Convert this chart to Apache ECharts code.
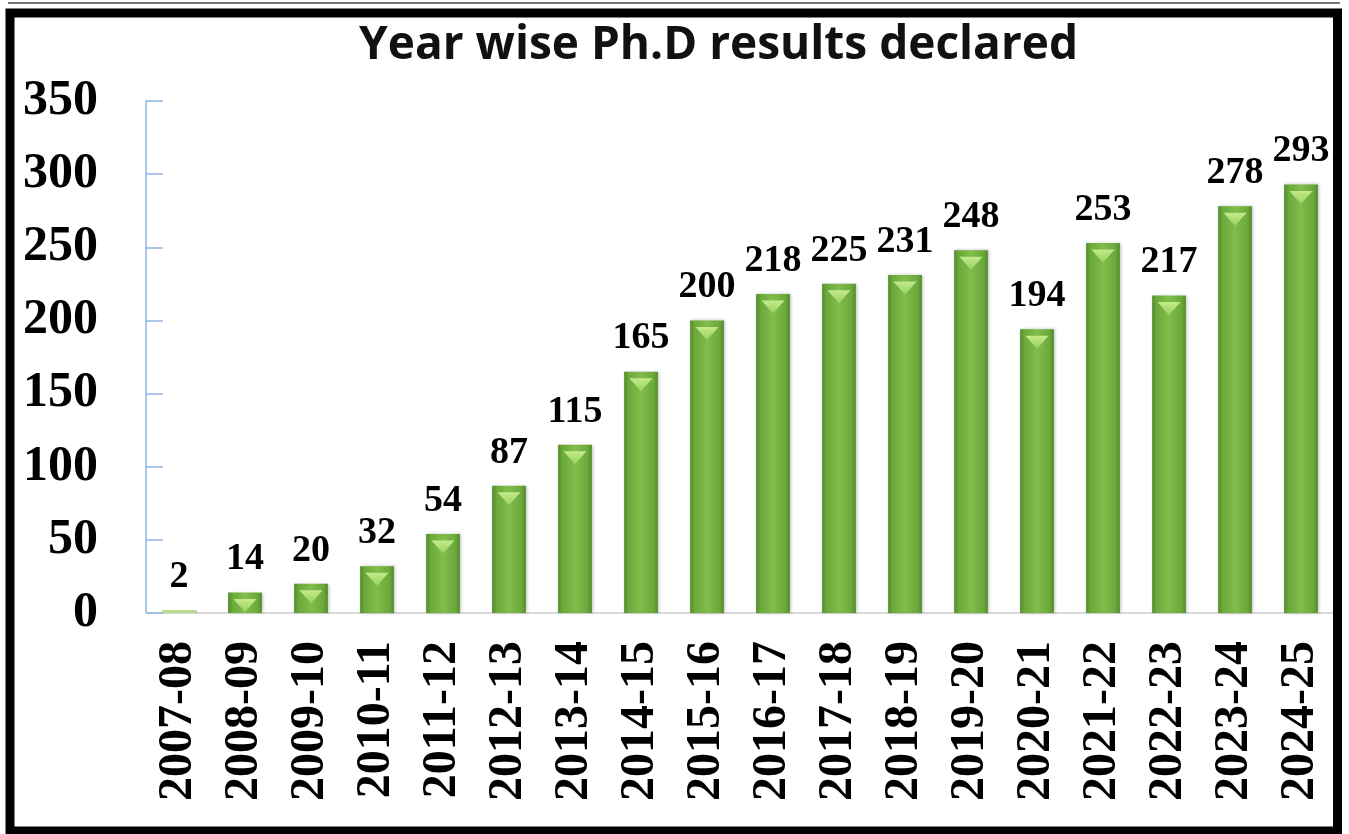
<!DOCTYPE html>
<html><head><meta charset="utf-8">
<script src="https://cdn.jsdelivr.net/npm/echarts@6/dist/echarts.min.js"></script>
<style>html,body{margin:0;padding:0;background:#fff}#c{width:1349px;height:834px}</style>
</head><body><div id="c"></div>
<script>
const titleText = 'Year wise Ph.D results declared';
const categories = ['2007-08','2008-09','2009-10','2010-11','2011-12','2012-13','2013-14','2014-15','2015-16','2016-17','2017-18','2018-19','2019-20','2020-21','2021-22','2022-23','2023-24','2024-25'];
const values = [2,14,20,32,54,87,115,165,200,218,225,231,248,194,253,217,278,293];
const yTicks = {min:0, max:350, interval:50};

const chart = echarts.init(document.getElementById('c'), null, {renderer:'canvas'});
const serif = '"Liberation Serif","Times New Roman",serif';
const barGrad = new echarts.graphic.LinearGradient(0,0,1,0,[
  {offset:0,color:'#4f8a2b'},{offset:0.12,color:'#6aa83a'},{offset:0.5,color:'#80bd4b'},{offset:0.88,color:'#6aa83a'},{offset:1,color:'#4f8a2b'}]);
const capGrad = new echarts.graphic.LinearGradient(0,0,0,1,[
  {offset:0,color:'#c4ea8c'},{offset:1,color:'#9ad160'}]);
const barData = values.map(v => v < 5 ? {value:v,itemStyle:{color:'#b5dc8f',shadowBlur:0}} : v);
const capData = values.map(v => v < 5 ? '-' : v);
chart.setOption({
  animation:false,
  title:{text:titleText,left:354,top:18,textStyle:{fontFamily:'"Open Sans","Liberation Sans",sans-serif',fontWeight:'bold',fontSize:46,color:'#111'}},
  grid:{left:146,right:15,top:101,bottom:221,containLabel:false},
  xAxis:{type:'category',data:categories,
    axisLine:{show:true,lineStyle:{color:'#d9d9d9',width:2}},
    axisTick:{show:false},
    axisLabel:{rotate:90,margin:28,fontFamily:serif,fontWeight:'bold',fontSize:48,color:'#000',interval:0}},
  yAxis:{type:'value',min:yTicks.min,max:yTicks.max,interval:yTicks.interval,
    splitLine:{show:false},
    axisLine:{show:true,lineStyle:{color:'#8eb4e3',width:1.5}},
    axisTick:{show:true,inside:true,length:17,lineStyle:{color:'#8eb4e3',width:1.5}},
    axisLabel:{margin:48,fontFamily:serif,fontWeight:'bold',fontSize:50,color:'#000'}},
  series:[
    {type:'bar',data:barData,barWidth:'51%',
      itemStyle:{color:barGrad,shadowColor:'rgba(0,0,0,0.25)',shadowBlur:3,shadowOffsetX:1},
      label:{show:true,position:'top',distance:14,fontFamily:serif,fontWeight:'bold',fontSize:38,color:'#000'}},
    {type:'pictorialBar',data:capData,symbol:'path://M0,0 L10,0 L5,2.6 Z',symbolPosition:'end',
      symbolSize:['51%',13],symbolOffset:[0,'50%'],barGap:'-100%',z:3,
      itemStyle:{color:capGrad},silent:true}
  ],
  graphic:[
    {type:'rect',shape:{x:10,y:13,width:1327.5,height:818},style:{fill:'none',stroke:'#000',lineWidth:9},z:100},
    {type:'line',shape:{x1:8,y1:3,x2:1340,y2:3},style:{stroke:'#444',lineWidth:1.5},z:100}
  ]
});
</script></body></html>
